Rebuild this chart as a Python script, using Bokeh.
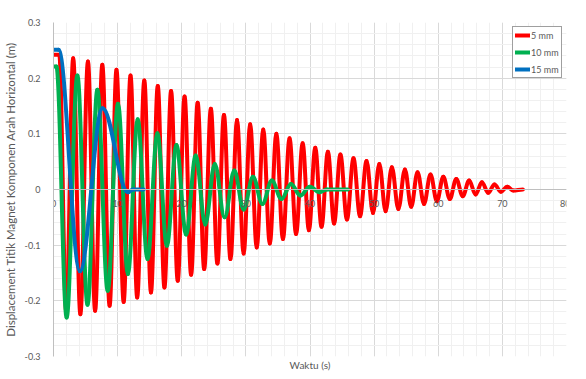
from bokeh.plotting import figure
from bokeh.models import (Range1d, FixedTicker, ColumnDataSource, Title)
from bokeh.embed import file_html
from bokeh.resources import INLINE

# ---------------- data ----------------
red_time = [0, 0.9, 1.99, 3.07, 4.19, 5.37, 6.49, 7.61, 8.75, 9.82, 10.94, 12.01,
            13.05, 14.16, 15.2, 16.26, 17.3, 18.34, 19.37, 20.44, 21.46, 22.48,
            23.5, 24.54, 25.56, 26.58, 27.6, 28.62, 29.65, 30.67, 31.69, 32.71,
            33.73, 34.75, 35.78, 36.81, 37.83, 38.85, 39.83, 40.82, 41.8, 42.79,
            43.76, 44.74, 45.76, 46.78, 47.8, 48.82, 49.82, 50.81, 51.79, 52.76,
            53.78, 54.8, 55.78, 56.77, 57.78, 58.79, 59.79, 60.79, 61.8, 62.81,
            63.81, 64.82, 65.82, 66.81, 67.79, 68.77, 69.76, 70.75, 71.7, 73.2]
red_disp = [0.242, 0.242, -0.220, 0.236, -0.224, 0.230, -0.218, 0.224, -0.209, 0.215,
            -0.202, 0.205, -0.194, 0.196, -0.185, 0.186, -0.176, 0.177, -0.164, 0.167,
            -0.153, 0.156, -0.143, 0.145, -0.133, 0.134, -0.125, 0.125, -0.115, 0.117,
            -0.104, 0.108, -0.097, 0.100, -0.089, 0.092, -0.080, 0.083, -0.073, 0.075,
            -0.067, 0.068, -0.061, 0.063, -0.054, 0.056, -0.048, 0.051, -0.042, 0.046,
            -0.039, 0.040, -0.035, 0.036, -0.031, 0.031, -0.026, 0.027, -0.021, 0.023,
            -0.017, 0.019, -0.012, 0.016, -0.009, 0.013, -0.006, 0.009, -0.004, 0.005,
            -0.002, 0.0]

green_time = [0, 0.45, 2.05, 3.72, 5.31, 6.84, 8.45, 10.06, 11.6, 13.13, 14.66, 16.2,
              17.68, 19.17, 20.68, 22.18, 23.66, 25.15, 26.68, 28.2, 29.65, 31.1,
              32.58, 34.05, 35.55, 37.03, 38.5, 39.97, 41.5, 42.6, 45.9]
green_disp = [0.221, 0.221, -0.230, 0.205, -0.207, 0.179, -0.182, 0.154, -0.152, 0.126,
              -0.125, 0.101, -0.101, 0.080, -0.081, 0.061, -0.063, 0.046, -0.050, 0.034,
              -0.036, 0.023, -0.026, 0.016, -0.017, 0.010, -0.011, 0.005, -0.005, 0.0, 0.0]

blue_time = [0, 0.8, 4.12, 7.65, 11.6, 12.4, 14.05]
blue_disp = [0.251, 0.251, -0.147, 0.146, -0.005, 0.0, 0.0]

series_names = ["5 mm", "10 mm", "15 mm"]
series_colors = ["#FF0000", "#00B050", "#0070C0"]

x_ticks = [0, 10, 20, 30, 40, 50, 60, 70, 80]
x_minor = list(range(0, 81, 2))
y_ticks = [-0.3, -0.2, -0.1, 0, 0.1, 0.2, 0.3]
y_tick_labels = ["-0.3", "-0.2", "-0.1", "0", "0.1", "0.2", "0.3"]
y_minor = [round(-0.3 + 0.02 * i, 2) for i in range(31)]

FONT = "Lato"
GREY = "#595959"

p = figure(width=570, height=371, output_backend="svg", toolbar_location=None,
           x_range=Range1d(0, 80), y_range=Range1d(-0.3, 0.3),
           min_border_left=45, min_border_right=4, min_border_top=22,
           min_border_bottom=15)
p.styles = {"box-shadow": "-1px -1px 0 0 #d9d9d9"}
p.outline_line_color = None
p.background_fill_color = "white"
p.border_fill_color = "white"

# axes
p.xaxis.ticker = FixedTicker(ticks=x_ticks, minor_ticks=x_minor)
p.yaxis.ticker = FixedTicker(ticks=y_ticks, minor_ticks=y_minor)
p.yaxis.major_label_overrides = {t: l for t, l in zip(y_ticks, y_tick_labels)}
p.xaxis.fixed_location = 0
for ax in (p.xaxis, p.yaxis):
    ax.major_tick_line_color = None
    ax.minor_tick_line_color = None
    ax.axis_line_color = "#bfbfbf"
    ax.major_label_text_font = FONT
    ax.major_label_text_font_size = "9px"
    ax.major_label_text_color = GREY
p.xaxis.major_label_standoff = 4
p.yaxis.major_label_standoff = 7
p.yaxis.axis_label = "Displacement Titik Magnet Komponen Arah Horizontal (m)"
p.yaxis.axis_label_text_font = FONT
p.yaxis.axis_label_text_font_size = "11.5px"
p.yaxis.axis_label_text_font_style = "normal"
p.yaxis.axis_label_text_color = GREY
p.yaxis.axis_label_standoff = 5

p.add_layout(Title(text="Waktu (s)", align="center", text_font=FONT,
                   text_font_size="10px", text_font_style="normal",
                   text_color=GREY, standoff=0, offset=0), "below")

# grids
for g in (p.xgrid, p.ygrid):
    g.grid_line_color = "#d9d9d9"
    g.minor_grid_line_color = "#f0f0f0"

# curves: smooth half-cycles between successive extrema
K = 0.364
for t, d, name, col in zip([red_time, green_time, blue_time],
                           [red_disp, green_disp, blue_disp],
                           series_names, series_colors):
    x0, x1 = t[:-1], t[1:]
    y0, y1 = d[:-1], d[1:]
    src = ColumnDataSource(dict(
        x0=x0, y0=y0, x1=x1, y1=y1,
        cx0=[a + K * (b - a) for a, b in zip(x0, x1)], cy0=y0,
        cx1=[b - K * (b - a) for a, b in zip(x0, x1)], cy1=y1))
    p.bezier(x0="x0", y0="y0", x1="x1", y1="y1", cx0="cx0", cy0="cy0",
             cx1="cx1", cy1="cy1", source=src, line_color=col,
             line_width=4, line_cap="round", line_join="round",
             legend_label=name)

lg = p.legend[0]
lg.location = (459, 278)
lg.margin = 0
lg.padding = 2
lg.spacing = 5
lg.glyph_width = 15
lg.glyph_height = 12
lg.label_height = 12
lg.label_width = 10
lg.label_standoff = 1
lg.label_text_font = FONT
lg.label_text_font_size = "9px"
lg.label_text_color = GREY
lg.border_line_color = "#404040"
lg.border_line_width = 1
lg.background_fill_color = "white"
lg.background_fill_alpha = 1

open("out.html", "w").write(file_html(p, INLINE))
